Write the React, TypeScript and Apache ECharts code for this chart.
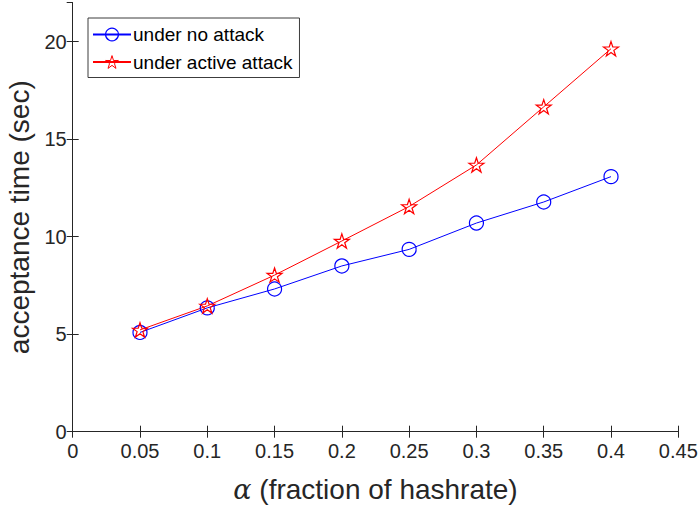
import React, { useEffect, useRef } from "react";
import * as echarts from "echarts";

const alphaValues = [0.05, 0.1, 0.15, 0.2, 0.25, 0.3, 0.35, 0.4];
const noAttack = [5.09, 6.35, 7.32, 8.5, 9.35, 10.7, 11.78, 13.08];
const activeAttack = [5.22, 6.45, 8.03, 9.78, 11.55, 13.68, 16.66, 19.64];
const xTicks = ["0", "0.05", "0.1", "0.15", "0.2", "0.25", "0.3", "0.35", "0.4", "0.45"];
const seriesNames = ["under no attack", "under active attack"];

const STAR =
  "path://M50 0 L61.23 34.55 L97.55 34.55 L68.17 55.9 L79.39 90.45 L50 69.1 L20.61 90.45 L31.83 55.9 L2.45 34.55 L38.77 34.55 Z";

const AX = "#262626";
const FONT = "Liberation Sans, Arial, Helvetica, sans-serif";

export default function App() {
  const ref = useRef<HTMLDivElement>(null);
  useEffect(() => {
    document.body.style.margin = "0";
    const chart = echarts.init(ref.current!, undefined, { renderer: "svg" });
    const fmtX = (v: number) => {
      const i = Math.round(v / 0.05);
      return xTicks[i] ?? "";
    };
    const baseAxis = {
      axisLine: { show: true, lineStyle: { color: AX, width: 1 } },
      axisTick: { show: true, inside: true, length: 6, lineStyle: { color: AX } },
      splitLine: { show: false },
    };
    chart.setOption({
      animation: false,
      textStyle: { fontFamily: FONT },
      grid: {
        left: 72.7,
        right: 20.7,
        top: 2.7,
        bottom: 76.3,
        containLabel: false,
        outerBoundsMode: "none",
      },
      legend: {
        orient: "vertical",
        left: 88,
        top: 18,
        padding: [7, 7, 6, 4],
        itemGap: 8.5,
        itemWidth: 38,
        itemHeight: 16,
        borderColor: "#3c3c3c",
        borderWidth: 1,
        backgroundColor: "#fff",
        textStyle: { fontSize: 19, color: "#000", fontFamily: FONT, padding: [0, 0, 0, -3] },
        data: [
          {
            name: seriesNames[0],
            itemStyle: { color: "rgba(0,0,0,0)", borderColor: "#0000ff", borderWidth: 1.2 },
          },
          {
            name: seriesNames[1],
            itemStyle: { color: "rgba(0,0,0,0)", borderColor: "#ff0000", borderWidth: 1 },
          },
        ],
      },
      xAxis: [
        {
          ...baseAxis,
          type: "value",
          min: 0,
          max: 0.45,
          interval: 0.05,
          name: "{a|α} (fraction of hashrate)",
          nameLocation: "middle",
          nameGap: 44,
          nameTextStyle: {
            fontSize: 28,
            color: AX,
            fontFamily: FONT,
            rich: {
              a: { fontFamily: "DejaVu Serif, Liberation Serif, serif", fontStyle: "italic", fontSize: 27, color: AX },
            },
          },
          axisLabel: { fontSize: 20, color: AX, margin: 9, formatter: fmtX },
        },
        {
          ...baseAxis,
          type: "value",
          position: "top",
          min: 0,
          max: 0.45,
          interval: 0.05,
          axisLabel: { show: false },
        },
      ],
      yAxis: [
        {
          ...baseAxis,
          type: "value",
          min: 0,
          max: 22,
          interval: 5,
          name: "acceptance time (sec)",
          nameLocation: "middle",
          nameGap: 38,
          nameTextStyle: { fontSize: 28, color: AX, fontFamily: FONT },
          axisLabel: { fontSize: 20, color: AX, margin: 6, showMaxLabel: false },
        },
        {
          ...baseAxis,
          type: "value",
          position: "right",
          min: 0,
          max: 22,
          interval: 5,
          axisLabel: { show: false },
        },
      ],
      series: [
        {
          name: seriesNames[0],
          type: "line",
          data: alphaValues.map((a, i) => [a, noAttack[i]]),
          symbol: "circle",
          symbolSize: 14,
          showAllSymbol: true,
          lineStyle: { color: "#0000ff", width: 1 },
          itemStyle: { color: "rgba(0,0,0,0)", borderColor: "#0000ff", borderWidth: 1.2 },
          emphasis: { disabled: true },
        },
        {
          name: seriesNames[1],
          type: "line",
          data: alphaValues.map((a, i) => [a, activeAttack[i]]),
          symbol: STAR,
          symbolSize: [15, 14.3],
          showAllSymbol: true,
          lineStyle: { color: "#ff0000", width: 1 },
          itemStyle: { color: "rgba(0,0,0,0)", borderColor: "#ff0000", borderWidth: 1.2 },
          emphasis: { disabled: true },
        },
      ],
    });
    return () => chart.dispose();
  }, []);
  return <div ref={ref} style={{ width: 699, height: 508 }} />;
}
